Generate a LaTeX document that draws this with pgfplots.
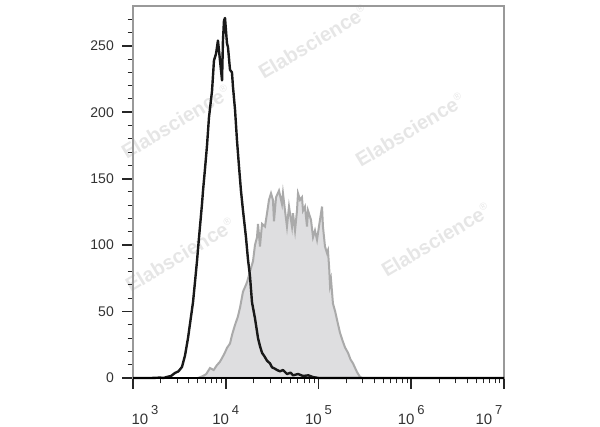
\documentclass[border=0pt]{standalone}
\usepackage{pgfplots}
\pgfplotsset{compat=1.18}
\usepackage{fontspec}
\setmainfont{Liberation Sans}
\pgfplotstableread{
lx c
3.000 0
3.200 0
3.291 0.3
3.330 0
3.367 0.8
3.410 1.5
3.453 3.8
3.490 5
3.528 8.3
3.561 17
3.593 30
3.625 46
3.647 57
3.668 72
3.690 88
3.712 106
3.744 131
3.755 141
3.777 158
3.798 175
3.819 196
3.852 216
3.873 239
3.895 244
3.916 254
3.938 239
3.960 224
3.970 254
3.981 269
3.992 271
4.013 252
4.024 249
4.046 232
4.067 230
4.078 219
4.100 202
4.121 179
4.143 159
4.164 141
4.186 126
4.218 106
4.240 89
4.261 77
4.283 57
4.315 45
4.348 30
4.369 24
4.391 19
4.420 16
4.445 13
4.477 11
4.499 8
4.530 7
4.553 6
4.585 5
4.617 6
4.660 3
4.700 4
4.725 2
4.780 3
4.833 1.5
4.890 2
4.941 0.7
5.000 0
7.000 0
}\blacktab
\pgfplotstableread{
lx c
3.700 0
3.755 1.5
3.790 3
3.830 7.5
3.870 6
3.906 9.8
3.935 12
3.960 15
3.990 19
4.013 22.6
4.046 26
4.070 33
4.100 40
4.130 46
4.154 53
4.186 65
4.205 68
4.229 72
4.261 80
4.294 88
4.315 100
4.337 106
4.348 116
4.369 99
4.391 116
4.423 114
4.445 124
4.466 134
4.488 139
4.509 134
4.520 118
4.542 136
4.574 141
4.606 131
4.617 139
4.639 126
4.660 114
4.682 129
4.714 114
4.725 124
4.747 111
4.768 126
4.779 139
4.801 134
4.822 136
4.833 126
4.854 129
4.876 114
4.887 126
4.919 119
4.941 106
4.962 111
4.984 104
5.005 114
5.038 129
5.048 114
5.070 99
5.092 94
5.102 96
5.115 83
5.124 70
5.135 74
5.156 56
5.180 50
5.199 44
5.232 34
5.260 28
5.286 23
5.318 19
5.345 14
5.372 11
5.415 4.5
5.447 0.8
5.470 0
}\graytab
\definecolor{fillgray}{RGB}{222,222,224}
\definecolor{linegray}{RGB}{170,170,170}
\definecolor{wm}{RGB}{230,230,230}
\newcommand{\ex}[1]{10\hspace{3pt}\raisebox{10pt}{\fontsize{13}{13}\selectfont #1}}
\begin{document}
\begin{tikzpicture}
\useasboundingbox (0,0) rectangle (600pt,427pt);
\begin{scope}[every node/.style={text=wm, font=\fontsize{20}{20}\selectfont\bfseries, rotate=31}]
\node at (313pt,385pt) {Elabscience\textsuperscript{\normalfont\fontsize{10}{10}\selectfont ®}};
\node at (176pt,305pt) {Elabscience\textsuperscript{\normalfont\fontsize{10}{10}\selectfont ®}};
\node at (410pt,297pt) {Elabscience\textsuperscript{\normalfont\fontsize{10}{10}\selectfont ®}};
\node at (180pt,172pt) {Elabscience\textsuperscript{\normalfont\fontsize{10}{10}\selectfont ®}};
\node at (436pt,187pt) {Elabscience\textsuperscript{\normalfont\fontsize{10}{10}\selectfont ®}};
\end{scope}
\begin{axis}[
  at={(133pt,49pt)}, anchor=south west,
  scale only axis, width=371pt, height=372pt,
  xmin=3, xmax=7, ymin=0, ymax=280,
  xtick={3,4,5,6,7},
  xticklabels={\hspace*{24pt}\ex{3},\ex{4},\ex{5},\ex{6},\ex{7}\hspace*{30pt}},
  minor xtick={3.30103,3.47712,3.60206,3.69897,3.77815,3.84510,3.90309,3.95424,
               4.30103,4.47712,4.60206,4.69897,4.77815,4.84510,4.90309,4.95424,
               5.30103,5.47712,5.60206,5.69897,5.77815,5.84510,5.90309,5.95424,
               6.30103,6.47712,6.60206,6.69897,6.77815,6.84510,6.90309,6.95424},
  ytick={0,50,100,150,200,250},
  yticklabels={0,50,100,150,200,250},
  minor ytick={10,20,30,40,60,70,80,90,110,120,130,140,160,170,180,190,210,220,230,240,260,270},
  tick align=outside, xtick pos=bottom, ytick pos=left,
  major tick length=11pt, minor tick length=5.5pt,
  major tick style={black!85, line width=1.6pt},
  minor tick style={black!85, line width=1pt},
  axis line style={linegray!90!black, line width=1.5pt},
  /pgf/number format/assume math mode=true,
  xticklabel style={font=\fontsize{15}{15}\selectfont, text=black!80, anchor=base, inner sep=0pt, yshift=-36pt},
  yticklabel style={font=\fontsize{14}{14}\selectfont, text=black!80, anchor=east, inner sep=0pt, xshift=-8pt},
  clip=false,
]
\addplot[draw=linegray, fill=fillgray, line width=2pt] table[x=lx,y=c] {\graytab} \closedcycle;
\addplot[draw=black!90, line width=2.4pt, line join=round] table[x=lx,y=c] {\blacktab};
\draw[black, line width=2.5pt] (rel axis cs:0,0) -- (rel axis cs:1,0);
\end{axis}
\end{tikzpicture}
\end{document}
